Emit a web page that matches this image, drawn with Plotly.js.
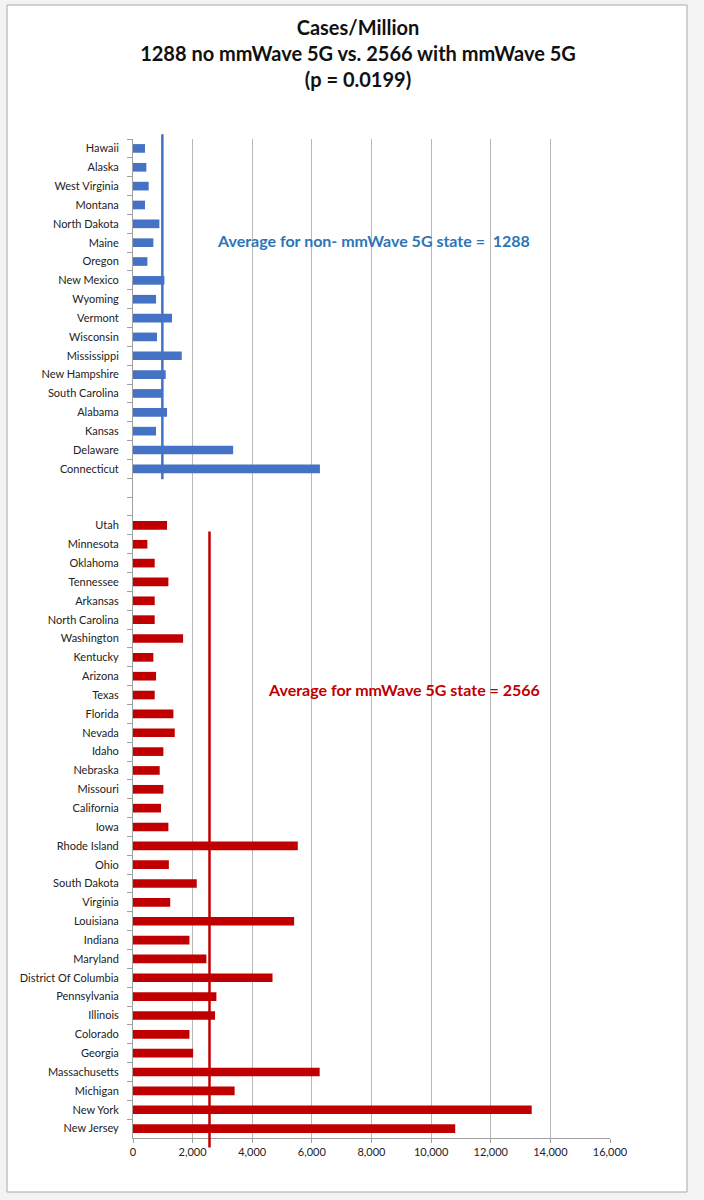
<!DOCTYPE html>
<html>
<head>
<meta charset="utf-8">
<script src="https://cdn.plot.ly/plotly-3.0.1.min.js"></script>
<style>html,body{margin:0;padding:0;background:#fff;}#chart{width:704px;height:1200px;}</style>
</head>
<body>
<div id="chart"></div>
<script>
const blueStates = ['Hawaii','Alaska','West Virginia','Montana','North Dakota','Maine','Oregon','New Mexico','Wyoming','Vermont','Wisconsin','Mississippi','New Hampshire','South Carolina','Alabama','Kansas','Delaware','Connecticut'];
const blueValues = [403,448,526,403,885,683,482,1053,773,1310,806,1635,1097,974,1142,773,3359,6270];

const redStates = ['Utah','Minnesota','Oklahoma','Tennessee','Arkansas','North Carolina','Washington','Kentucky','Arizona','Texas','Florida','Nevada','Idaho','Nebraska','Missouri','California','Iowa','Rhode Island','Ohio','South Dakota','Virginia','Louisiana','Indiana','Maryland','District Of Columbia','Pennsylvania','Illinois','Colorado','Georgia','Massachusetts','Michigan','New York','New Jersey'];
const redValues = [1142,482,728,1187,728,728,1680,683,773,728,1355,1400,1019,896,1019,941,1187,5527,1203,2139,1248,5404,1894,2462,4680,2797,2752,1894,2017,6262,3409,13374,10808];

const spacerCats = [' ', '  '];
const xTickVals = [0,2000,4000,6000,8000,10000,12000,14000,16000];

const avgNonText = 1288;      // value printed in the label
const avgWithText = 2566;
const avgNonLine = 985;       // where the blue line is drawn in the picture
const avgWithLine = 2566;

const titleLines = ['Cases/Million','1288 no mmWave 5G vs. 2566 with mmWave 5G','(p = 0.0199)'];

const allCats = blueStates.concat(spacerCats, redStates);
const nCats = allCats.length;

const BLUE = '#4472C4', RED = '#C00000';
const L = 133, R = 94, T = 139, B = 62, W = 704, H = 1200;
const PW = W - L - R, PH = H - T - B;
const px = v => (v - L) / PW;
const py = v => (T + PH - v) / PH;
const catY = idx => (nCats - 0.5 - idx) / nCats;

const traces = [
  {type:'bar', orientation:'h', y: blueStates, x: blueValues, marker:{color: BLUE}, width:0.46, hoverinfo:'x+y'},
  {type:'bar', orientation:'h', y: redStates, x: redValues, marker:{color: RED}, width:0.46, hoverinfo:'x+y'},
  {type:'bar', orientation:'h', y: spacerCats, x: spacerCats.map(() => 0), marker:{color:'rgba(0,0,0,0)'}, hoverinfo:'skip'}
];

const firstRed = blueStates.length + spacerCats.length;

const layout = {
  width: W, height: H,
  margin: {l: L, r: R, t: T, b: B, autoexpand: false},
  paper_bgcolor: '#f3f3f3',
  plot_bgcolor: 'rgba(0,0,0,0)',
  showlegend: false,
  barmode: 'overlay',
  font: {family: 'Lato, "Open Sans", sans-serif', color: '#222'},
  title: {
    text: titleLines.map(t => '<b>' + t + '</b>').join('<br>'),
    font: {size: 20, color: '#111', family: 'Lato, sans-serif'},
    x: 358 / W, xanchor: 'center',
    y: 1 - 35 / H, yanchor: 'top', yref: 'container'
  },
  xaxis: {
    range: [0, 16000], tickvals: xTickVals, tickformat: ',d',
    showgrid: true, gridcolor: '#b8b8b8', gridwidth: 1,
    zeroline: false, showline: true, linecolor: '#a0a0a0', linewidth: 1,
    ticks: 'outside', ticklen: 4, tickcolor: '#a0a0a0',
    tickfont: {size: 11, color: '#222'}, fixedrange: true
  },
  yaxis: {
    type: 'category', categoryorder: 'array', categoryarray: allCats,
    range: [nCats - 0.5, -0.5],
    showgrid: false, zeroline: false, showline: true, linecolor: '#a0a0a0', linewidth: 1,
    ticks: 'outside', ticklen: 5, tickcolor: '#a0a0a0', tickson: 'boundaries',
    tickfont: {size: 11, color: '#222'}, ticklabelstandoff: 11, fixedrange: true
  },
  shapes: [
    {type:'rect', xref:'paper', yref:'paper', x0: px(7), x1: px(687), y0: py(1192), y1: py(5),
     fillcolor:'#ffffff', line:{color:'#a8a8a8', width:1}, layer:'below'},
    {type:'line', xref:'x', yref:'paper', x0: avgNonLine, x1: avgNonLine,
     y0: catY(blueStates.length - 0.45), y1: catY(-0.75), line:{color: BLUE, width: 2.5}},
    {type:'line', xref:'x', yref:'paper', x0: avgWithLine, x1: avgWithLine,
     y0: catY(nCats), y1: catY(firstRed + 0.32), line:{color: RED, width: 2.5}}
  ],
  annotations: [
    {xref:'x', yref:'y', x: 8070, y: 5 - 0.1, text: '<b>Average for non- mmWave 5G state =  ' + avgNonText + '</b>',
     showarrow:false, font:{size:16, color:'#2E75B6', family:'Lato, sans-serif'}, xanchor:'center'},
    {xref:'x', yref:'y', x: 9075, y: firstRed + 8.7, text: '<b>Average for mmWave 5G state = ' + avgWithText + '</b>',
     showarrow:false, font:{size:16, color: RED, family:'Lato, sans-serif'}, xanchor:'center'}
  ],
  hovermode: false
};

Plotly.newPlot('chart', traces, layout, {displayModeBar: false, staticPlot: true});
</script>
</body>
</html>
